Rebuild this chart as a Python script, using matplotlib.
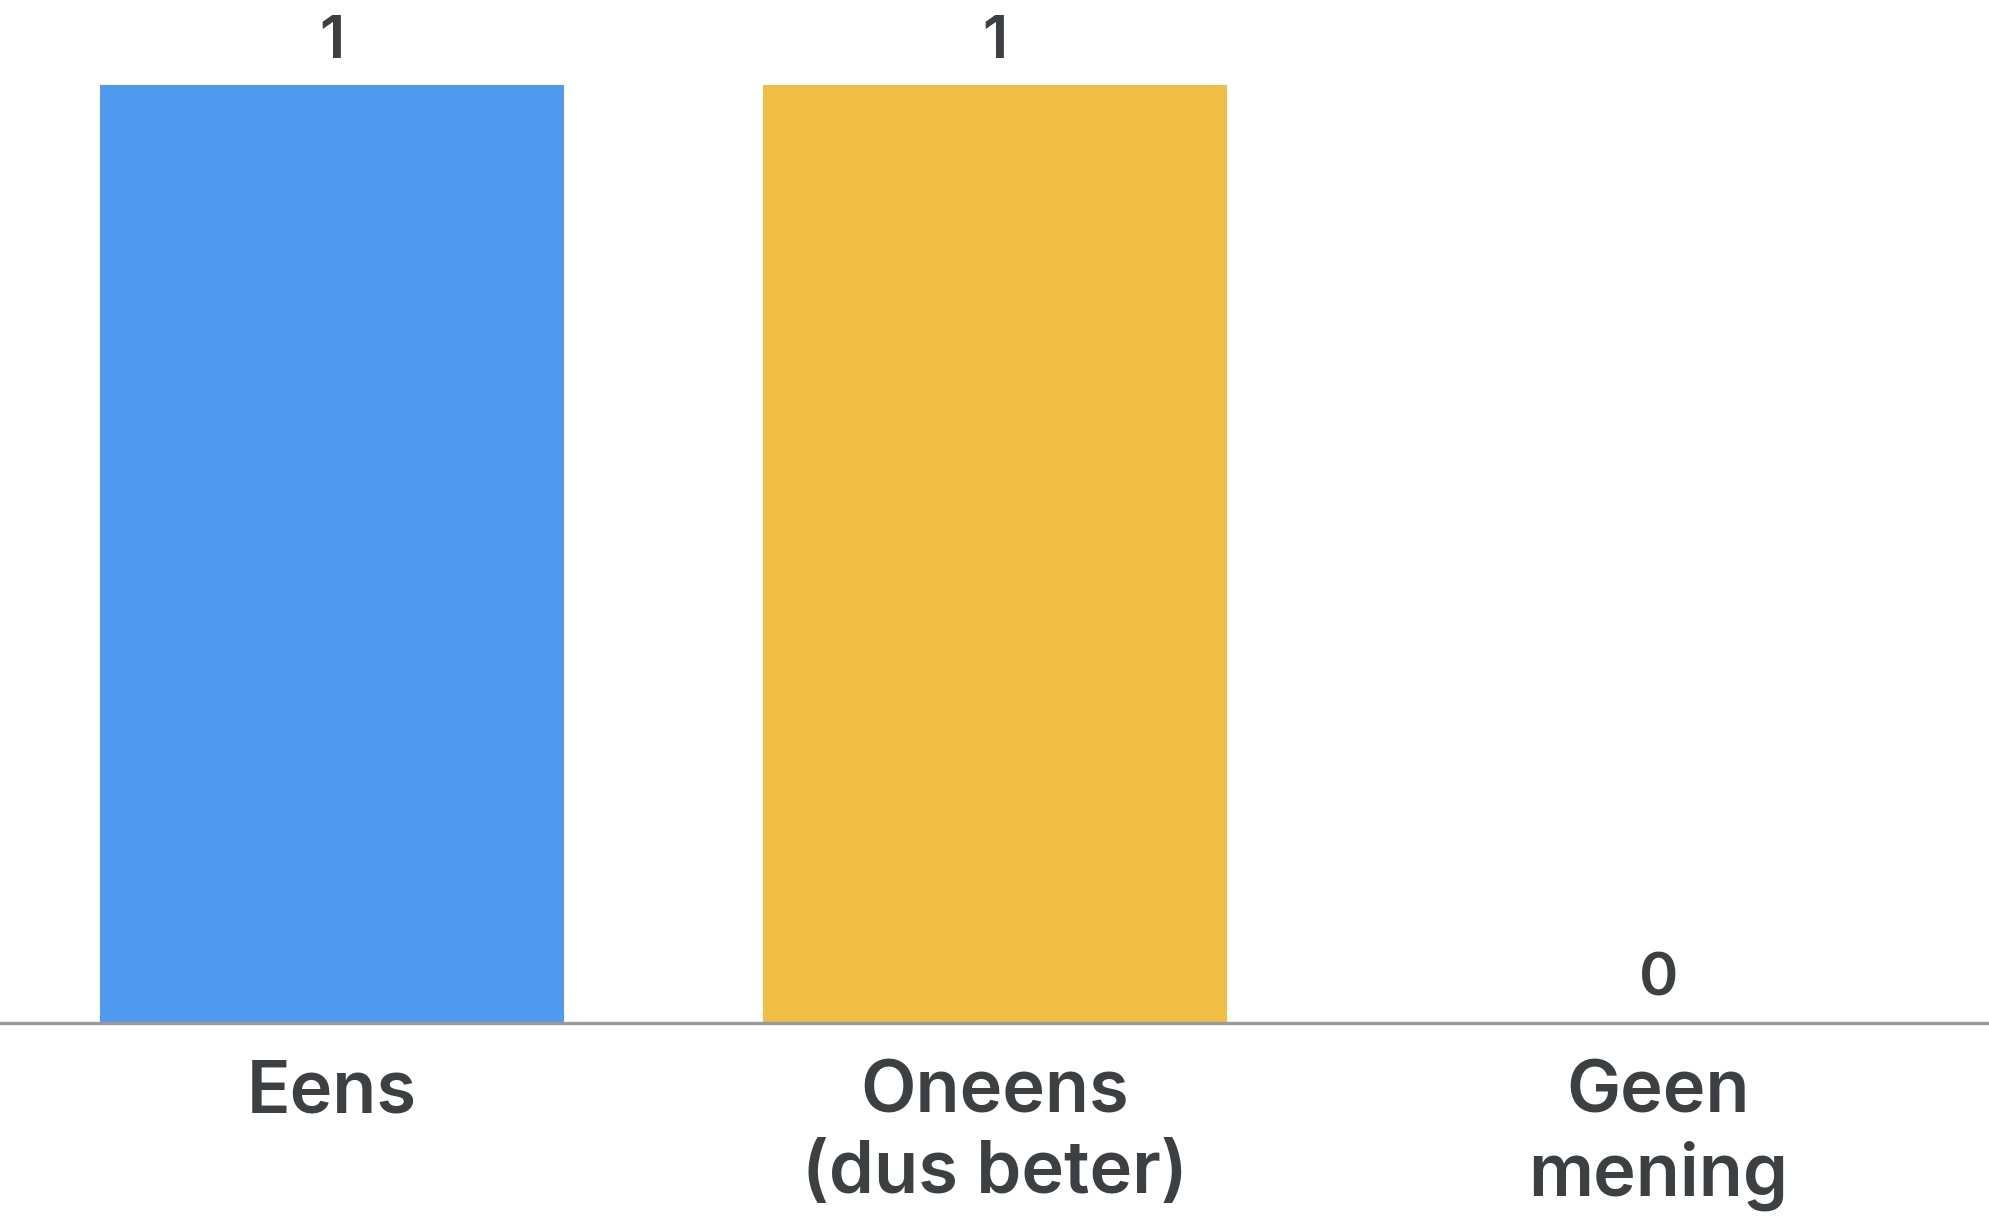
import matplotlib
matplotlib.use("Agg")
import matplotlib.pyplot as plt

categories = ["Eens", "Oneens\n(dus beter)", "Geen\nmening"]
values = [1, 1, 0]
colors = ["#4f99ee", "#f0be42", "#34a853"]

plt.rcParams['font.family'] = ['Inter', 'DejaVu Sans']
text_color = "#3c4043"

fig = plt.figure(figsize=(19.9, 12.17), dpi=100)
ax = fig.add_axes([0, 194 / 1217, 1, (1023 - 85) / 1217])
x = list(range(len(categories)))
bars = ax.bar(x, values, width=0.7, color=colors, zorder=2)
ax.set_xlim(-0.5, len(categories) - 0.5)
ax.set_ylim(0, 1)
ax.bar_label(bars, labels=[str(v) for v in values], padding=11,
             fontsize=43, color=text_color, fontweight='semibold')

for s in ["top", "right", "left"]:
    ax.spines[s].set_visible(False)
ax.spines["bottom"].set_color("#9a9a9a")
ax.spines["bottom"].set_linewidth(2.4)
ax.spines["bottom"].set_zorder(3)
ax.set_yticks([])
ax.set_xticks(x)
ax.set_xticklabels(categories, fontsize=52, color=text_color, fontweight='semibold',
                   linespacing=1.25)
ax.tick_params(axis='x', length=0, pad=26)

fig.savefig("out.png", dpi=100, facecolor="white")
